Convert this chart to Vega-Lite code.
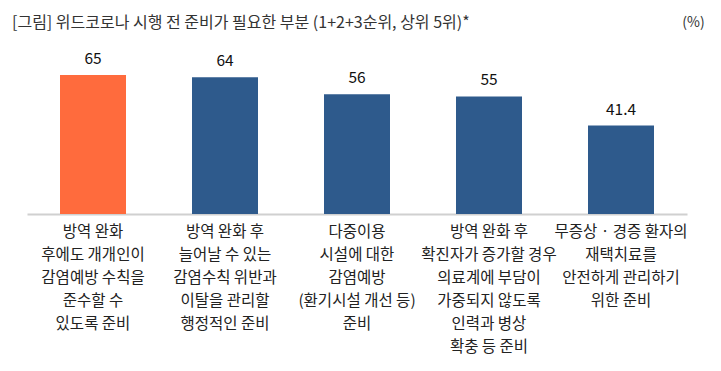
{
  "$schema": "https://vega.github.io/schema/vega-lite/v6.json",
  "width": 660,
  "height": 171,
  "autosize": "none",
  "padding": {"left": 27, "top": 43, "right": 34, "bottom": 157},
  "background": "white",
  "config": {
    "view": {"stroke": null},
    "font": "Noto Sans CJK KR"
  },
  "title": {
    "text": "[그림] 위드코로나 시행 전 준비가 필요한 부분 (1+2+3순위, 상위 5위)*",
    "anchor": "start",
    "frame": "group",
    "dx": -15,
    "offset": -16,
    "fontSize": 16,
    "fontWeight": "normal",
    "color": "#333333"
  },
  "data": {
    "values": [
      {"item": "방역 완화|후에도 개개인이|감염예방 수칙을|준수할 수|있도록 준비", "value": 65, "highlight": "yes", "order": 1},
      {"item": "방역 완화 후|늘어날 수 있는|감염수칙 위반과|이탈을 관리할|행정적인 준비", "value": 64, "highlight": "no", "order": 2},
      {"item": "다중이용|시설에 대한|감염예방|(환기시설 개선 등)|준비", "value": 56, "highlight": "no", "order": 3},
      {"item": "방역 완화 후|확진자가 증가할 경우|의료계에 부담이|가중되지 않도록|인력과 병상|확충 등 준비", "value": 55, "highlight": "no", "order": 4},
      {"item": "무증상 · 경증 환자의|재택치료를|안전하게 관리하기|위한 준비", "value": 41.4, "highlight": "no", "order": 5}
    ]
  },
  "encoding": {
    "x": {
      "field": "item",
      "type": "nominal",
      "sort": {"field": "order"},
      "scale": {"paddingInner": 0.5, "paddingOuter": 0.25},
      "axis": {
        "title": null,
        "labelAngle": 0,
        "labelExpr": "split(datum.label, '|')",
        "labelFontSize": 15.5,
        "labelColor": "#222222",
        "labelLineHeight": 23,
        "labelPadding": 17,
        "labelBaseline": "middle",
        "labelLimit": 200,
        "ticks": false,
        "domainColor": "#d0d0d0",
        "domainWidth": 2
      }
    },
    "y": {
      "field": "value",
      "type": "quantitative",
      "scale": {"domain": [0, 80]},
      "axis": {
        "orient": "right",
        "title": "(%)",
        "titleAngle": 0,
        "titleX": 6,
        "titleY": -21,
        "titleAlign": "center",
        "titleBaseline": "middle",
        "titleFontSize": 14,
        "titleFontWeight": "normal",
        "titleColor": "#333333",
        "labels": false,
        "ticks": false,
        "domain": false,
        "grid": false
      }
    }
  },
  "layer": [
    {
      "mark": {"type": "bar"},
      "encoding": {
        "color": {
          "field": "highlight",
          "type": "nominal",
          "scale": {"domain": ["yes", "no"], "range": ["#FF6B3D", "#2E5A8C"]},
          "legend": null
        }
      }
    },
    {
      "mark": {"type": "text", "baseline": "bottom", "dy": -8, "fontSize": 15.5, "color": "#111111"},
      "encoding": {
        "text": {"field": "value", "type": "quantitative"}
      }
    }
  ]
}
